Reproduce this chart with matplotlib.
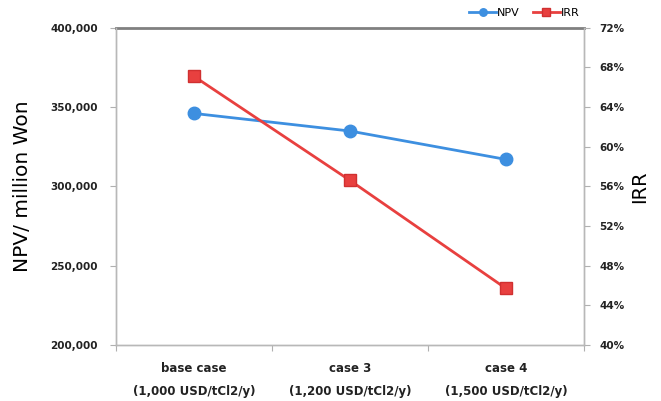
import matplotlib
matplotlib.use("Agg")
import matplotlib.pyplot as plt
from matplotlib.ticker import FuncFormatter, MultipleLocator

categories = ["base case\n(1,000 USD/tCl2/y)", "case 3\n(1,200 USD/tCl2/y)", "case 4\n(1,500 USD/tCl2/y)"]
npv = [346000, 334900, 317000]
irr = [0.671, 0.566, 0.457]

fig = plt.figure(figsize=(6.61, 4.01), dpi=100)
ax = fig.add_axes([0.1755, 0.1397, 0.708, 0.791])
ax2 = ax.twinx()

x = [0.5, 1.5, 2.5]
blue = "#3d8fe0"
red = "#e8403f"

ax.plot(x, npv, color=blue, lw=2, marker="o", ms=9, mfc=blue, mec=blue, zorder=3, label="NPV")
ax2.plot(x, irr, color=red, lw=2, marker="s", ms=9, mfc=red, mec="#d03030", zorder=3, label="IRR")

ax.set_xlim(0, 3)
ax.set_ylim(200000, 400000)
ax.yaxis.set_major_locator(MultipleLocator(50000))
ax.yaxis.set_major_formatter(FuncFormatter(lambda v, p: f"{int(v):,}"))
ax2.set_ylim(0.40, 0.72)
ax2.yaxis.set_major_locator(MultipleLocator(0.04))
ax2.yaxis.set_major_formatter(FuncFormatter(lambda v, p: f"{v*100:.0f}%"))

ax.set_xticks([0, 1, 2, 3])
ax.set_xticklabels([])
ax.set_xticks(x, minor=True)
ax.set_xticklabels(categories, minor=True, fontsize=8.5, fontweight="bold", color="#222222",
                   linespacing=2.0)
ax.tick_params(axis="x", which="minor", length=0, pad=12)
ax.tick_params(axis="x", which="major", length=4, color="#b0b0b0", direction="out")

for a in (ax, ax2):
    for s in a.spines.values():
        s.set_color("#b8b8b8")
        s.set_linewidth(1)
ax.spines["top"].set_color("#808080")
ax.spines["top"].set_linewidth(2)
ax2.spines["top"].set_visible(False)

ax.tick_params(axis="y", length=4, color="#b0b0b0", labelsize=7.5, pad=9)
ax2.tick_params(axis="y", length=4, color="#b0b0b0", labelsize=7.5, pad=7)
for lab in ax.get_yticklabels() + ax2.get_yticklabels():
    lab.set_fontweight("bold")
    lab.set_color("#222222")

ax.set_ylabel("NPV/ million Won", fontsize=14.5, labelpad=13)
ax2.set_ylabel("IRR", fontsize=14, labelpad=4)

h1, l1 = ax.get_legend_handles_labels()
h2, l2 = ax2.get_legend_handles_labels()
fig.legend(h1 + h2, l1 + l2, loc="upper right", bbox_to_anchor=(0.892, 1.005), ncol=2,
           frameon=False, fontsize=8, handlelength=2.4,
           columnspacing=1.2, handletextpad=0.1, markerscale=0.6)

fig.savefig("out.png", dpi=100)
